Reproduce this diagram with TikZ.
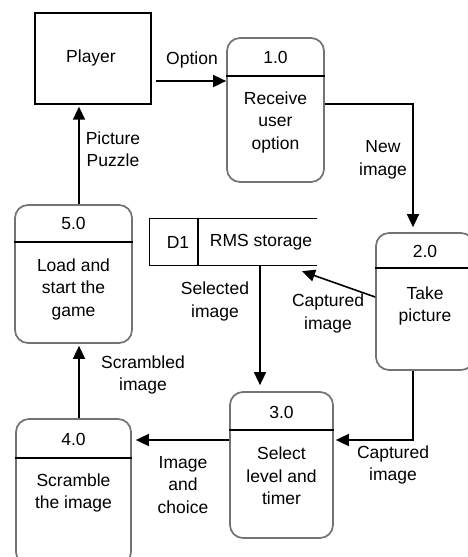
\documentclass[tikz,border=0pt]{standalone}
\usepackage{fontspec}
\setmainfont{Liberation Sans}
\usetikzlibrary{arrows.meta,calc}
\begin{document}
\begin{tikzpicture}[x=1pt,y=-1pt,
  txt/.style={font=\fontsize{17.5}{22.5}\selectfont, align=center, inner sep=0pt},
  proc/.style={draw=black!55, line width=1.7pt, rounded corners=13pt, inner sep=0pt},
  divline/.style={draw=black, line width=1.4pt},
  boxline/.style={draw=black, line width=1.3pt},
  arr/.style={draw=black, line width=1.6pt, -{Triangle[length=13pt,width=12pt]}}
]
\useasboundingbox (0,0) rectangle (468,557);
\fill[white] (0,0) rectangle (468,557);
\clip (0,0) rectangle (468,557);

% External entity
\node[boxline, minimum width=116pt, minimum height=91pt, inner sep=0pt] (player) at (93,58.5) {};
\node[txt] (playert) at (91,58) {Player};

% Process 1.0
\node[proc, minimum width=97pt, minimum height=144pt] (p1) at (275.5,110) {};
\draw[divline] (p1.west |- 0,76) -- (p1.east |- 0,76);
\node[txt] (p1n) at (275.5,57) {1.0};
\node[txt] (p1t) at (275.5,122) {Receive\\user\\option};

% Process 2.0
\node[proc, minimum width=98pt, minimum height=137pt] (p2) at (425,301.5) {};
\draw[divline] (p2.west |- 0,268) -- (p2.east |- 0,268);
\node[txt] (p2n) at (425,251) {2.0};
\node[txt] (p2t) at (425,306) {Take\\picture};

% Process 3.0
\node[proc, minimum width=103pt, minimum height=146pt] (p3) at (281.5,465) {};
\draw[divline] (p3.west |- 0,430) -- (p3.east |- 0,430);
\node[txt] (p3n) at (281.5,412) {3.0};
\node[txt] (p3t) at (281.5,476) {Select\\level and\\timer};

% Process 4.0
\node[proc, minimum width=115pt, minimum height=146pt] (p4) at (73.5,492) {};
\draw[divline] (p4.west |- 0,458) -- (p4.east |- 0,458);
\node[txt] (p4n) at (73.5,439) {4.0};
\node[txt] (p4t) at (73.5,493) {Scramble\\the image};

% Process 5.0
\node[proc, minimum width=117pt, minimum height=138pt] (p5) at (73.5,274) {};
\draw[divline] (p5.west |- 0,242) -- (p5.east |- 0,242);
\node[txt] (p5n) at (73.5,223) {5.0};
\node[txt] (p5t) at (73.5,289) {Load and\\start the\\game};

% Data store
\node[minimum width=167pt, minimum height=46pt, inner sep=0pt] (store) at (233.5,242) {};
\draw[boxline] (store.north east) -- (store.north west) -- (store.south west) -- (store.south east);
\draw[boxline] (198,0 |- store.north) -- (198,0 |- store.south);
\node[txt] (d1) at (178,242) {D1};
\node[txt] (rms) at (261,242) {RMS storage};

% Flows
\draw[arr, shorten <=4pt] (player.east |- 0,81) -- (p1.west |- 0,81);
\node[txt] (lopt) at (192,60) {Option};

\draw[arr, shorten >=5pt] (p1.east |- 0,104) -| (413,0 |- p2.north);
\node[txt] (lnew) at (383,160) {New\\image};

\coordinate (capend) at ($(302,0 |- store.south)+(0,6)$);
\draw[arr] (p2.west |- 0,297) -- (capend);
\node[txt] (lcap1) at (328,313.5) {Captured\\image};

\draw[arr, shorten >=6pt] (260,0 |- store.south) -- (260,0 |- p3.north);
\node[txt] (lsel) at (215,301.5) {Selected\\image};

\draw[arr, shorten >=2pt] (413,0 |- p2.south) |- (p3.east |- 0,440);
\node[txt] (lcap2) at (393,465) {Captured\\image};

\draw[arr, shorten >=4pt] (p3.west |- 0,440) -- (p4.east |- 0,440);
\node[txt] (lchoice) at (183,485) {Image\\and\\choice};

\draw[arr, shorten >=2pt] (79,0 |- p4.north) -- (79,0 |- p5.south);
\node[txt] (lscr) at (143,375) {Scrambled\\image};

\draw[arr, shorten >=2pt] (79,0 |- p5.north) -- (79,0 |- player.south);
\node[txt] (lpic) at (113,149) {Picture\\Puzzle};
\end{tikzpicture}
\end{document}
